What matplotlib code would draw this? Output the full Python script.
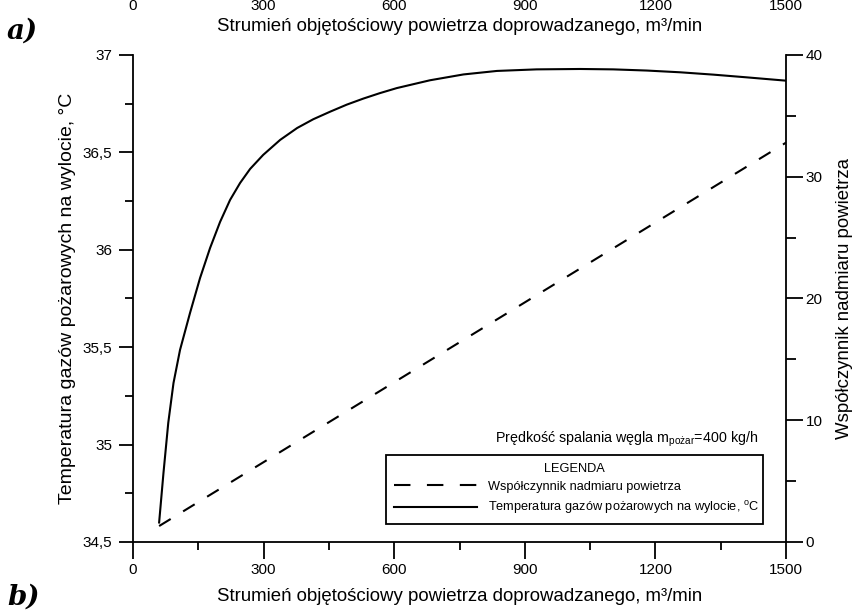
import matplotlib
matplotlib.use("Agg")
import matplotlib.pyplot as plt
from matplotlib.ticker import MultipleLocator, FuncFormatter

plt.rcParams['font.family'] = ['Liberation Sans', 'DejaVu Sans']
plt.rcParams['mathtext.fontset'] = 'custom'
plt.rcParams['mathtext.rm'] = 'Liberation Sans'

# dane
przeplyw = [60, 70, 81, 93, 108, 131, 154, 177, 200, 223, 246, 269, 299, 338,
            377, 414, 453, 491, 529, 567, 606, 682, 759, 836, 927, 1027, 1103,
            1180, 1257, 1333, 1410, 1500]
temperatura = [34.6, 34.855, 35.112, 35.316, 35.486, 35.676, 35.855, 36.009,
               36.143, 36.256, 36.343, 36.415, 36.487, 36.564, 36.625, 36.67,
               36.709, 36.745, 36.776, 36.804, 36.83, 36.87, 36.9, 36.918,
               36.926, 36.928, 36.926, 36.92, 36.911, 36.899, 36.885, 36.868]
przeplyw_lambda = [60, 1500]
wsp_nadmiaru = [1.31, 32.8]

xticks = [0, 300, 600, 900, 1200, 1500]
xlabel = "Strumień objętościowy powietrza doprowadzanego, m³/min"

fig = plt.figure(figsize=(8.57, 6.12), dpi=100)
ax = fig.add_axes([0.1552, 0.1144, 0.762, 0.7958])
ax2 = ax.twinx()

przec = lambda v, p: ('%g' % v).replace('.', ',')

# os lewa - temperatura
l1, = ax.plot(przeplyw, temperatura, color='black', lw=1.5,
              label="Temperatura gazów pożarowych na wylocie, $^{\\mathregular{o}}$C")
ax.set_xlim(0, 1500)
ax.set_ylim(34.5, 37)
ax.set_xticks(xticks)
ax.xaxis.set_minor_locator(MultipleLocator(150))
ax.yaxis.set_major_locator(MultipleLocator(0.5))
ax.yaxis.set_minor_locator(MultipleLocator(0.25))
ax.yaxis.set_major_formatter(FuncFormatter(przec))
ax.spines['top'].set_visible(False)
ax.spines['right'].set_visible(False)
for s in ['left', 'bottom']:
    ax.spines[s].set_linewidth(1.3)
ax.tick_params(axis='y', which='major', length=10, width=1.3, pad=5, labelsize=11)
ax.tick_params(axis='y', which='minor', length=6, width=1.3)
ax.tick_params(axis='x', which='major', length=12, width=1.3, pad=3, labelsize=11)
ax.tick_params(axis='x', which='minor', length=6, width=1.3)
ax.set_xlabel(xlabel, fontsize=13.4, labelpad=8)
ax.set_ylabel("Temperatura gazów pożarowych na wylocie, °C", fontsize=14, labelpad=5)

# os prawa - wspolczynnik nadmiaru powietrza
l2, = ax2.plot(przeplyw_lambda, wsp_nadmiaru, color='black', lw=1.5,
               ls=(0, (6.5, 7)), label="Współczynnik nadmiaru powietrza")
ax2.set_ylim(0, 40)
ax2.yaxis.set_major_locator(MultipleLocator(10))
ax2.yaxis.set_minor_locator(MultipleLocator(5))
for s in ['top', 'left', 'bottom']:
    ax2.spines[s].set_visible(False)
ax2.spines['right'].set_linewidth(1.3)
ax2.tick_params(axis='y', which='major', length=12, width=1.3, pad=2, labelsize=11)
ax2.tick_params(axis='y', which='minor', length=7, width=1.3)
ax2.set_ylabel("Współczynnik nadmiaru powietrza", fontsize=13.4, labelpad=10)

ax.text(0.756, 0.21, "Prędkość spalania węgla m$_{\\mathregular{pożar}}$=400 kg/h",
        transform=ax.transAxes, ha='center', va='center', fontsize=10.3)

leg = ax2.legend([l2, l1], [l2.get_label(), l1.get_label()], title="LEGENDA",
                 loc='lower left', bbox_to_anchor=(0.3874, 0.037, 0.5774, 0.14),
                 mode='expand', borderaxespad=0, fancybox=False,
                 edgecolor='black', framealpha=1,
                 fontsize=9.2, title_fontsize=9.2, handlelength=6.5,
                 borderpad=0.6, labelspacing=0.5, handletextpad=0.9)
leg.get_frame().set_linewidth(1.3)
leg.get_lines()[0].set_linestyle((0, (7.9, 7.9)))

# ucieta os z wykresu a) u gory
axt = fig.add_axes([0.1552, 1.0, 0.762, 0.001])
axt.set_xlim(0, 1500)
axt.set_xticks(xticks)
axt.set_yticks([])
for s in axt.spines.values():
    s.set_visible(False)
axt.tick_params(axis='x', length=0, pad=-1, labelsize=11)
axt.set_xlabel(xlabel, fontsize=13.4, labelpad=4)

fig.text(0.008, 1 - 31 / 612, "a)", fontsize=20, fontweight='bold',
         style='italic', family='DejaVu Serif', va='center')
fig.text(0.008, 1 - 597 / 612, "b)", fontsize=20, fontweight='bold',
         style='italic', family='DejaVu Serif', va='center')

fig.savefig("out.png", dpi=100)
